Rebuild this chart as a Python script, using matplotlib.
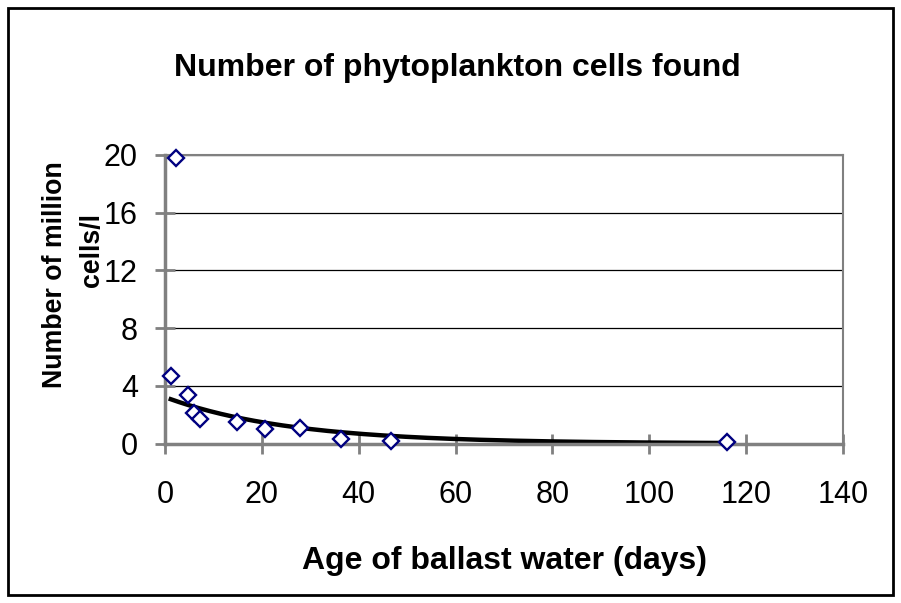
import numpy as np
from matplotlib import pyplot as plt

plt.rcParams['font.family'] = ['Liberation Sans', 'DejaVu Sans']

# Datos
edad_dias = [2.3, 1.2, 4.7, 5.9, 7.2, 14.8, 20.7, 27.9, 36.3, 46.6, 116]
celulas = [19.8, 4.66, 3.34, 2.12, 1.71, 1.47, 1.0, 1.08, 0.28, 0.14, 0.09]
ticks_x = [0, 20, 40, 60, 80, 100, 120, 140]
ticks_y = [0, 4, 8, 12, 16, 20]

# Línea de tendencia exponencial (ajuste por mínimos cuadrados en log)
b, a = np.polyfit(edad_dias, np.log(celulas), 1)
xs = np.linspace(min(edad_dias), max(edad_dias), 200)
ys = np.exp(a) * np.exp(b * xs)

fig = plt.figure(figsize=(9.01, 6.03), dpi=100)
ax = fig.add_axes([165 / 901, 1 - 443.5 / 603, (843 - 165) / 901, (443.5 - 155) / 603])

ax.plot(xs, ys, color='black', lw=3.2, zorder=2)
ax.plot(edad_dias, celulas, 'D', ms=8, mfc='white', mec='#000080', mew=1.7, zorder=3,
        clip_on=False)

ax.set_xlim(0, 140)
ax.set_ylim(0, 20)
ax.set_xticks(ticks_x)
ax.set_yticks(ticks_y)
ax.tick_params(labelsize=22, direction='inout', length=15, width=2, color='#808080')
ax.tick_params(axis='x', pad=19)
ax.tick_params(axis='y', pad=12)
ax.yaxis.grid(True, color='black', lw=0.9)
ax.set_axisbelow(True)
for lado in ('left', 'bottom'):
    ax.spines[lado].set_color('#808080')
    ax.spines[lado].set_linewidth(2.5)
for lado in ('top', 'right'):
    ax.spines[lado].set_color('#808080')
    ax.spines[lado].set_linewidth(1.5)

fig.text(457 / 901, 1 - 68 / 603, 'Number of phytoplankton cells found', ha='center', va='center',
         fontsize=23, fontweight='bold')
fig.text(504 / 901, 1 - 561 / 603, 'Age of ballast water (days)', ha='center', va='center',
         fontsize=23, fontweight='bold')
fig.text(55 / 901, 1 - 275 / 603, 'Number of million', ha='center', va='center',
         rotation=90, fontsize=19.3, fontweight='bold')
fig.text(92 / 901, 1 - 250 / 603, 'cells/l', ha='center', va='center',
         rotation=90, fontsize=19.3, fontweight='bold')

# Marco negro de la figura
fig.add_artist(plt.Rectangle((8 / 901, 8 / 603), 885 / 901, 587 / 603, transform=fig.transFigure,
                             fill=False, edgecolor='black', lw=2))

plt.savefig('out.png', dpi=100)
